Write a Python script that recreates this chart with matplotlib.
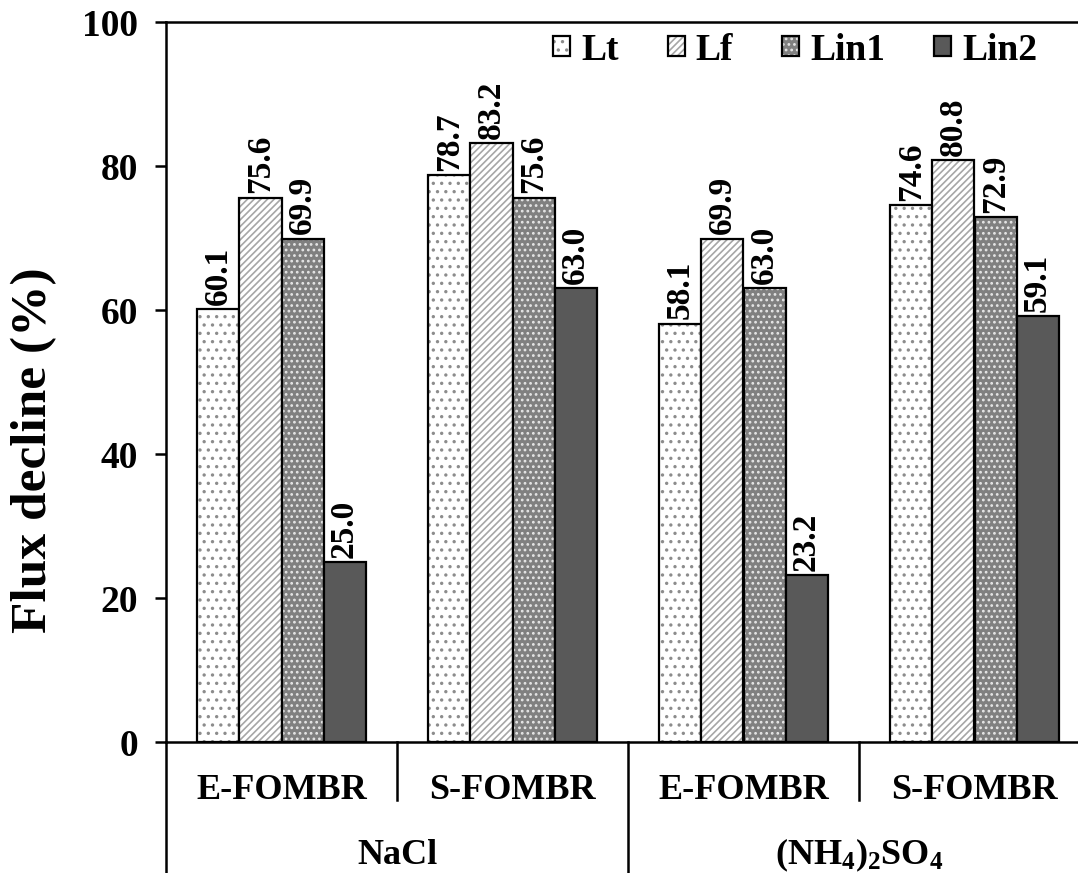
import matplotlib

matplotlib.use("Agg")
import matplotlib.pyplot as plt
import numpy as np

plt.rcParams["font.family"] = ["Liberation Serif", "DejaVu Serif"]
plt.rcParams["font.weight"] = "bold"
plt.rcParams["mathtext.fontset"] = "custom"
plt.rcParams["mathtext.rm"] = "Liberation Serif:bold"
plt.rcParams["mathtext.it"] = "Liberation Serif:bold"
plt.rcParams["mathtext.bf"] = "Liberation Serif:bold"
plt.rcParams["hatch.linewidth"] = 1.2

systems = ["E-FOMBR", "S-FOMBR", "E-FOMBR", "S-FOMBR"]
salts = ["NaCl", r"(NH$_4$)$_2$SO$_4$"]
series = ["Lt", "Lf", "Lin1", "Lin2"]
lt = [60.1, 78.7, 58.1, 74.6]
lf = [75.6, 83.2, 69.9, 80.8]
lin1 = [69.9, 75.6, 63.0, 72.9]
lin2 = [25.0, 63.0, 23.2, 59.1]
values = [lt, lf, lin1, lin2]

# face, hatch, hatch colour
styles = [
    ("white", "..", "#8c8c8c"),
    ("white", "/////", "#a6a6a6"),
    ("#808080", "...", "#e6e6e6"),
    ("#595959", "", "#595959"),
]

fig = plt.figure(figsize=(10.78, 8.73), dpi=100)
ax = fig.add_axes([166 / 1078, 1 - 742 / 873, 924 / 1078, 720 / 873])

x = np.arange(len(systems)) + 0.5
w = 0.182
handles = []
for i, (name, vals, (face, hatch, hc)) in enumerate(zip(series, values, styles)):
    pos = x + (i - 1.5) * w
    fill = ax.bar(pos, vals, w, color=face, hatch=hatch, edgecolor=hc, linewidth=0)
    edge = ax.bar(pos, vals, w, fill=False, edgecolor="black", linewidth=1.6)
    handles.append((fill[0], edge[0]))
    for px, v in zip(pos, vals):
        ax.text(px, v + 0.6, f"{v:.1f}", rotation=90, ha="center", va="bottom",
                fontsize=24, fontweight="bold")

ax.set_xlim(0, len(systems))
ax.set_ylim(0, 100)
ax.set_yticks([0, 20, 40, 60, 80, 100])
ax.tick_params(axis="y", labelsize=27, direction="out", length=8, width=1.8, pad=12)
ax.set_xticks([])
for s in ax.spines.values():
    s.set_linewidth(1.8)
ax.set_ylabel("Flux decline (%)", fontsize=37, fontweight="bold")
ax.yaxis.set_label_coords(-0.118, 0.405)

# two-level category axis
tr = ax.get_xaxis_transform()
ax.plot([0, 0], [0, -0.2], color="black", lw=1.8, transform=tr, clip_on=False)
for k in range(1, len(systems)):
    low = -0.2 if k % 2 == 0 else -0.08
    ax.plot([k, k], [0, low], color="black", lw=1.8, transform=tr, clip_on=False)
for xi, lab in zip(x, systems):
    ax.text(xi, -0.067, lab, transform=tr, ha="center", va="center",
            fontsize=26, fontweight="bold")
for j, lab in enumerate(salts):
    ax.text(2 * j + 1, -0.157, lab, transform=tr, ha="center", va="center",
            fontsize=26, fontweight="bold")

ax.legend(handles, series, ncol=4, loc="center right", frameon=False,
          bbox_to_anchor=(1056 / 1078, 1 - 50 / 873), bbox_transform=fig.transFigure,
          fontsize=27, handlelength=0.45, handleheight=0.45, handletextpad=0.3,
          columnspacing=1.3, borderpad=0)

fig.savefig("out.png", dpi=100)
